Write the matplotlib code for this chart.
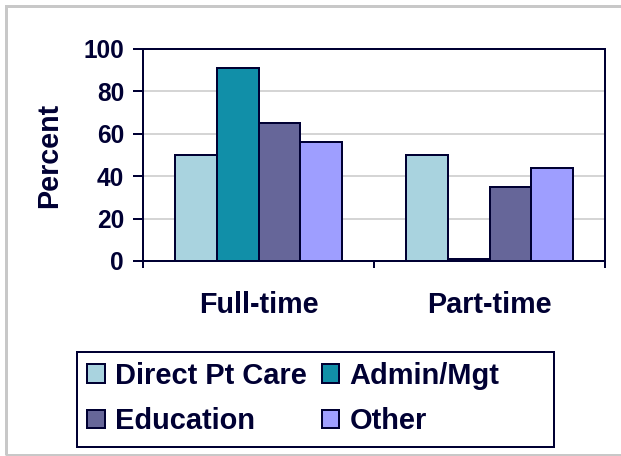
import numpy as np
import matplotlib.pyplot as plt
from matplotlib.patches import Rectangle

# Dados
categories = ['Full-time', 'Part-time']
series = ['Direct Pt Care', 'Admin/Mgt', 'Education', 'Other']
values = {
    'Direct Pt Care': [50, 50],
    'Admin/Mgt': [91, 1],
    'Education': [65, 35],
    'Other': [56, 44],
}
y_ticks = [0, 20, 40, 60, 80, 100]

colors = ['#A9D3DF', '#118FA8', '#666699', '#9E9EFF']
navy = '#000033'

plt.rcParams['font.family'] = ['Liberation Sans', 'DejaVu Sans']
plt.rcParams['font.weight'] = 'bold'

fig = plt.figure(figsize=(621 / 72, 456 / 72), dpi=72)
ax = fig.add_axes([143 / 621, 1 - 261 / 456, 462 / 621, 212 / 456])

x = np.arange(len(categories))
w = 0.181
for i, (name, c) in enumerate(zip(series, colors)):
    ax.bar(x + (i - 1.5) * w, values[name], width=w, color=c,
           edgecolor=navy, linewidth=2, label=name, zorder=3)

ax.set_xlim(-0.5, 1.5)
ax.set_ylim(0, 100)
ax.set_yticks(y_ticks)
ax.yaxis.grid(True, color='#C8C8C8', linewidth=1.5, zorder=0)
ax.tick_params(axis='y', labelsize=24.5, labelcolor=navy, color=navy,
               length=10, width=2, pad=9)

# ticks nas fronteiras das categorias, rótulos no centro
ax.set_xticks([-0.5, 0.5, 1.5])
ax.set_xticklabels([])
ax.tick_params(axis='x', which='major', length=7, width=2, color=navy)
ax.set_xticks(x, minor=True)
ax.set_xticklabels(categories, minor=True)
ax.tick_params(axis='x', which='minor', length=0, labelsize=28.8,
               labelcolor=navy, pad=30)

for s in ax.spines.values():
    s.set_color(navy)
    s.set_linewidth(2)

ax.set_ylabel('Percent', fontsize=28.6, color=navy, fontweight='bold')
ax.yaxis.set_label_coords(-0.173, 0.5)

# Legenda: ordem por linhas como no Excel
h, l = ax.get_legend_handles_labels()
order = [0, 2, 1, 3]
ax.legend([h[k] for k in order], [l[k] for k in order],
          loc='upper left', bbox_to_anchor=(87 / 621, 1 - 362 / 456),
          bbox_transform=fig.transFigure, ncol=2, frameon=False,
          fontsize=29, labelcolor=navy, handlelength=0.62, handleheight=0.62,
          handletextpad=0.35, columnspacing=0.5, labelspacing=0.59,
          borderpad=0, borderaxespad=0)
fig.patches.append(Rectangle((77 / 621, 1 - 447 / 456), 477 / 621, 95 / 456,
                             transform=fig.transFigure, fill=False,
                             edgecolor=navy, linewidth=2))

# borda da figura
fig.patches.append(Rectangle((6 / 621, 1 - 455 / 456), 1.0, 449 / 456,
                             transform=fig.transFigure, fill=False,
                             edgecolor='#C8C8C8', linewidth=3))

fig.savefig('out.png', dpi=72)
